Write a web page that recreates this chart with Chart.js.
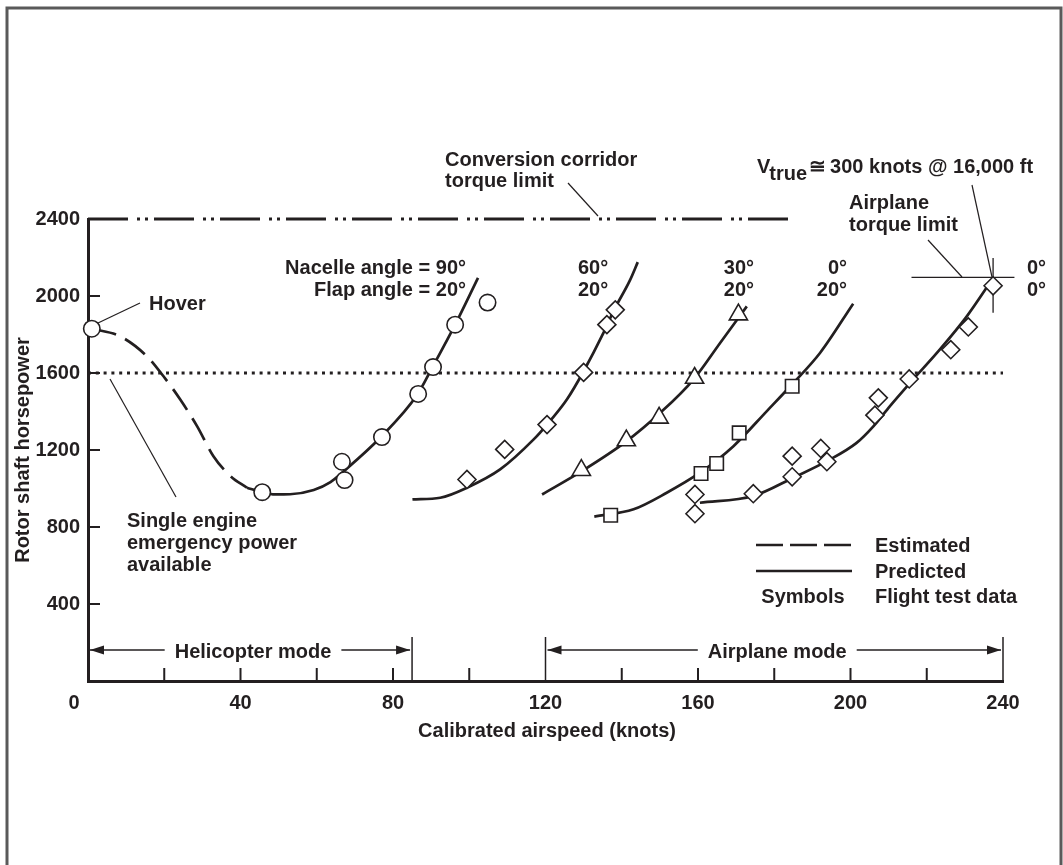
<!DOCTYPE html>
<html>
<head>
<meta charset="utf-8">
<script src="https://cdn.jsdelivr.net/npm/chart.js@4.4.1/dist/chart.umd.min.js"></script>
<style>
  html, body { margin: 0; padding: 0; background: #fff; }
  canvas { display: block; }
</style>
</head>
<body>
<canvas id="chart" width="1063" height="865"></canvas>
<script>
// ---- data (knots, rotor shaft horsepower) ----
const xTickValues = [0, 40, 80, 120, 160, 200, 240];
const xTickLabels = ['0', '40', '80', '120', '160', '200', '240'];
const xMinorTicks = [20, 40, 60, 80, 100, 140, 160, 180, 200, 220];
const yTickValues = [400, 800, 1200, 1600, 2000, 2400];
const yTickLabels = ['400', '800', '1200', '1600', '2000', '2400'];

// helicopter mode, nacelle 90 / flap 20
const heliEstX = [1, 8.5, 15.5, 19.8, 24.2, 28.6, 32.9, 37.4, 41.7];
const heliEstY = [1830, 1790, 1686, 1583, 1462, 1324, 1168, 1064, 1004];
const heliPredX = [41.7, 45.7, 49, 53, 59.2, 63.6, 67.1, 76.7, 86.4, 90.3, 96.3, 102.3];
const heliPredY = [1004, 981, 969, 970, 992, 1033, 1090, 1265, 1488, 1628, 1851, 2094];
const heliTestX = [1, 45.7, 66.6, 67.3, 77.1, 86.6, 90.5, 96.3, 104.8];
const heliTestY = [1830, 981, 1139, 1044, 1267, 1491, 1631, 1851, 1966];

// nacelle 60 / flap 20
const n60PredX = [85.1, 92.4, 99.4, 108.1, 116.9, 120.4, 125.6, 130, 135.2, 137.8, 142.2, 144.2];
const n60PredY = [943, 952, 1004, 1099, 1255, 1332, 1462, 1609, 1808, 1920, 2084, 2176];
const n60TestX = [99.4, 109.3, 120.4, 130, 136.1, 138.3];
const n60TestY = [1047, 1203, 1332, 1603, 1851, 1928];

// nacelle 30 / flap 20
const n30PredX = [119.1, 129.1, 141.3, 150.1, 158.8, 165.8, 172.8];
const n30PredY = [969, 1085, 1246, 1393, 1566, 1756, 1946];
const n30TestX = [129.4, 141.2, 149.8, 159.1, 170.6];
const n30TestY = [1095, 1249, 1367, 1574, 1903];

// nacelle 0 / flap 20
const n0f20PredX = [132.8, 143.1, 151.8, 160.5, 169.3, 178, 185, 192, 200.7];
const n0f20PredY = [854, 892, 978, 1082, 1220, 1401, 1548, 1704, 1960];
const n0f20TestX = [137.1, 160.8, 164.9, 170.8, 184.7];
const n0f20TestY = [861, 1078, 1130, 1289, 1531];

// nacelle 0 / flap 0
const n0f0PredX = [160.5, 174.5, 185, 193.8, 201.6, 206, 210.3, 215.6, 223.4, 230.5, 237.4];
const n0f0PredY = [926, 961, 1056, 1142, 1237, 1323, 1427, 1548, 1721, 1894, 2093];
const n0f0TestX = [159.2, 159.2, 174.5, 184.7, 184.7, 192.2, 193.8, 206.4, 207.3, 215.4, 226.3, 230.9, 237.4];
const n0f0TestY = [969, 869, 973, 1168, 1061, 1208, 1139, 1381, 1471, 1569, 1721, 1839, 2053];

// limits
const corridorX = [0, 184];
const corridorY = [2400, 2400];
const emergencyX = [0, 240];
const emergencyY = [1600, 1600];
const torqueHX = [216, 243];
const torqueHY = [2097, 2097];
const torqueVX = [237.4, 237.4];
const torqueVY = [2198, 1913];

// mode ranges
const heliMode = [0, 85];
const planeMode = [120, 240];

const ink = '#231f20';
const font = size => `bold ${size}px "Liberation Sans", Arial, Helvetica, sans-serif`;
const pts = (xs, ys) => xs.map((x, i) => ({ x: x, y: ys[i] }));

function curve(xs, ys, opts) {
    return Object.assign({
        data: pts(xs, ys),
        showLine: true,
        borderColor: ink,
        borderWidth: 2.7,
        pointRadius: 0,
        cubicInterpolationMode: 'monotone',
        clip: false,
        order: 2
    }, opts || {});
}

function marks(xs, ys, style, r) {
    return {
        data: pts(xs, ys),
        showLine: false,
        pointStyle: style,
        pointRadius: r,
        pointBackgroundColor: '#fff',
        pointBorderColor: ink,
        pointBorderWidth: 1.6,
        clip: false,
        order: 0
    };
}

function arrowHead(ctx, x, y, dir) {
    ctx.beginPath();
    ctx.moveTo(x, y);
    ctx.lineTo(x - dir * 14, y - 4.5);
    ctx.lineTo(x - dir * 14, y + 4.5);
    ctx.closePath();
    ctx.fill();
}

function line(ctx, x1, y1, x2, y2) {
    ctx.beginPath();
    ctx.moveTo(x1, y1);
    ctx.lineTo(x2, y2);
    ctx.stroke();
}

const decor = {
    id: 'decor',
    beforeDatasetsDraw(chart) {
        const { ctx, scales: { x, y } } = chart;
        const x0 = x.getPixelForValue(0);
        const y0 = y.getPixelForValue(0);
        ctx.save();

        // outer frame
        ctx.strokeStyle = '#5a5a5a';
        ctx.lineWidth = 3;
        ctx.strokeRect(7, 8, 1054, 900);

        // inward ticks
        ctx.strokeStyle = ink;
        ctx.lineWidth = 2;
        xMinorTicks.forEach(v => {
            const px = x.getPixelForValue(v);
            line(ctx, px, y0, px, y0 - 13);
        });
        yTickValues.slice(0, -1).forEach(v => {
            const py = y.getPixelForValue(v);
            line(ctx, x0, py, x0 + 12, py);
        });

        // mode bounds and arrows
        ctx.lineWidth = 1.5;
        [heliMode[1], planeMode[0], planeMode[1]].forEach(v => {
            const px = x.getPixelForValue(v);
            line(ctx, px, y0, px, y0 - 44);
        });
        ctx.font = font(20);
        ctx.fillStyle = ink;
        ctx.textAlign = 'center';
        const ay = y0 - 31;
        [[heliMode, 'Helicopter mode'], [planeMode, 'Airplane mode']].forEach(([m, label]) => {
            const a = x.getPixelForValue(m[0]) + 2;
            const b = x.getPixelForValue(m[1]) - 2;
            const c = (a + b) / 2 + 3;
            const half = ctx.measureText(label).width / 2 + 10;
            line(ctx, a, ay, c - half, ay);
            line(ctx, c + half, ay, b, ay);
            arrowHead(ctx, a, ay, -1);
            arrowHead(ctx, b, ay, 1);
            ctx.fillText(label, c, ay + 8);
        });
        ctx.restore();
    },
    afterDatasetsDraw(chart) {
        const { ctx } = chart;
        ctx.save();
        ctx.fillStyle = ink;
        ctx.strokeStyle = ink;
        ctx.font = font(20);
        ctx.textBaseline = 'alphabetic';

        const t = (s, px, py, align) => {
            ctx.textAlign = align || 'left';
            ctx.fillText(s, px, py);
        };

        // axis titles
        t('Calibrated airspeed (knots)', 547, 737, 'center');
        ctx.save();
        ctx.translate(29, 450);
        ctx.rotate(-Math.PI / 2);
        t('Rotor shaft horsepower', 0, 0, 'center');
        ctx.restore();

        // annotations
        t('Hover', 149, 310);
        t('Single engine', 127, 527);
        t('emergency power', 127, 549);
        t('available', 127, 571);
        t('Conversion corridor', 445, 166);
        t('torque limit', 445, 187);
        t('Nacelle angle = 90\u00b0', 466, 274, 'right');
        t('Flap angle = 20\u00b0', 466, 296, 'right');
        t('60\u00b0', 578, 274);
        t('20\u00b0', 578, 296);
        t('30\u00b0', 754, 274, 'right');
        t('20\u00b0', 754, 296, 'right');
        t('0\u00b0', 847, 274, 'right');
        t('20\u00b0', 847, 296, 'right');
        t('0\u00b0', 1046, 274, 'right');
        t('0\u00b0', 1046, 296, 'right');
        t('Airplane', 849, 209);
        t('torque limit', 849, 231);

        // V true label
        let vx = 757;
        t('V', vx, 173);
        vx += ctx.measureText('V').width - 1;
        t('true', vx, 180);
        vx += ctx.measureText('true').width + 2;
        t('\u2245', vx, 173);
        vx += ctx.measureText('\u2245').width + 4;
        t('300 knots @ 16,000 ft', vx, 173);

        // legend
        t('Estimated', 875, 552);
        t('Predicted', 875, 578);
        t('Flight test data', 875, 603);
        t('Symbols', 803, 603, 'center');

        ctx.lineWidth = 2.7;
        ctx.setLineDash([27, 7]);
        line(ctx, 756, 545, 852, 545);
        ctx.setLineDash([]);
        line(ctx, 756, 571, 852, 571);

        // leader lines
        ctx.lineWidth = 1.2;
        line(ctx, 98, 323, 140, 303);
        line(ctx, 110, 379, 176, 497);
        line(ctx, 568, 183, 598, 216);
        line(ctx, 972, 185, 992, 277);
        line(ctx, 928, 240, 962, 277);
        ctx.restore();
    }
};

new Chart(document.getElementById('chart'), {
    type: 'line',
    data: {
        datasets: [
            curve(corridorX, corridorY, { borderWidth: 3, borderDash: [40, 9, 3, 5, 3, 6], cubicInterpolationMode: 'default', tension: 0 }),
            curve(emergencyX, emergencyY, { borderWidth: 3, borderDash: [3, 4.8], cubicInterpolationMode: 'default', tension: 0 }),
            curve(torqueHX, torqueHY, { borderWidth: 1.3, tension: 0 }),
            curve(torqueVX, torqueVY, { borderWidth: 1.3, tension: 0, cubicInterpolationMode: 'default' }),
            curve(heliEstX, heliEstY, { borderDash: [25, 10] }),
            curve(heliPredX, heliPredY),
            curve(n60PredX, n60PredY),
            curve(n30PredX, n30PredY),
            curve(n0f20PredX, n0f20PredY),
            curve(n0f0PredX, n0f0PredY),
            marks(heliTestX, heliTestY, 'circle', 8.2),
            marks(n60TestX, n60TestY, 'rectRot', 9),
            marks(n30TestX, n30TestY, 'triangle', 10.5),
            marks(n0f20TestX, n0f20TestY, 'rect', 9.5),
            marks(n0f0TestX, n0f0TestY, 'rectRot', 9)
        ]
    },
    options: {
        responsive: false,
        animation: false,
        devicePixelRatio: 1,
        events: [],
        layout: { padding: { left: 0, top: 219, right: 60, bottom: 144 } },
        plugins: { legend: { display: false }, tooltip: { enabled: false } },
        scales: {
            x: {
                type: 'linear',
                min: 0,
                max: 240,
                afterFit: s => { s.height = 40; },
                afterBuildTicks: s => { s.ticks = xTickValues.map(v => ({ value: v })); },
                ticks: {
                    color: ink,
                    font: { family: '"Liberation Sans", Arial, sans-serif', size: 20, weight: 'bold' },
                    padding: 10,
                    maxRotation: 0,
                    callback: v => {
                        const i = xTickValues.indexOf(v);
                        return i === 0 ? xTickLabels[0] + '     ' : xTickLabels[i];
                    }
                },
                grid: { display: false, drawTicks: false },
                border: { display: true, width: 3, color: ink }
            },
            y: {
                type: 'linear',
                min: 0,
                max: 2400,
                afterFit: s => { s.width = 88; },
                afterBuildTicks: s => { s.ticks = yTickValues.map(v => ({ value: v })); },
                ticks: {
                    color: ink,
                    font: { family: '"Liberation Sans", Arial, sans-serif', size: 20, weight: 'bold' },
                    padding: 8,
                    callback: v => yTickLabels[yTickValues.indexOf(v)]
                },
                grid: { display: false, drawTicks: false },
                border: { display: true, width: 3, color: ink }
            }
        }
    },
    plugins: [decor]
});
</script>
</body>
</html>
